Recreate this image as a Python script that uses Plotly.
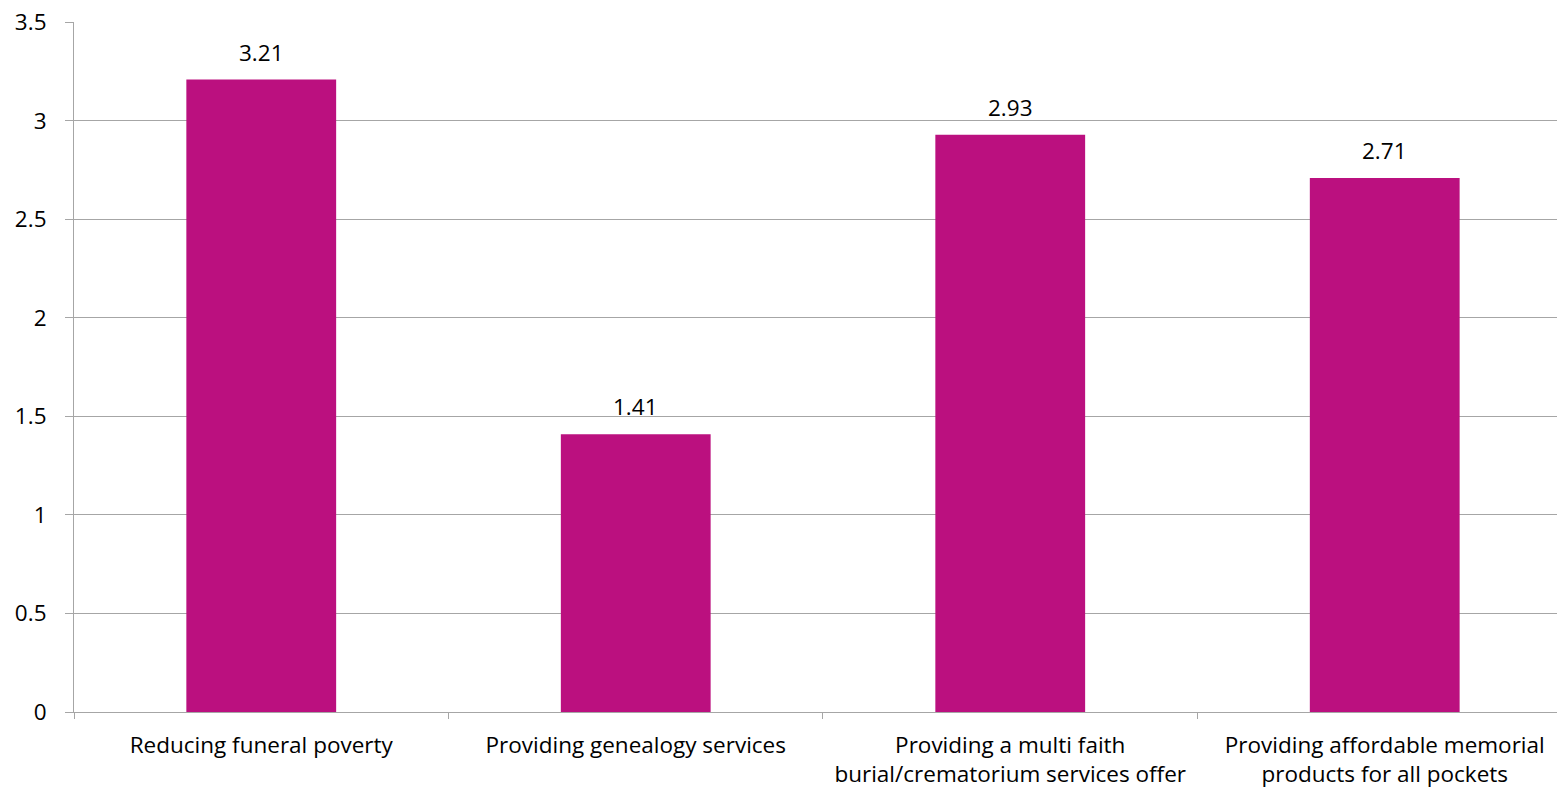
import plotly.graph_objects as go

categories = [
    "Reducing funeral poverty",
    "Providing genealogy services",
    "Providing a multi faith<br>burial/crematorium services offer",
    "Providing affordable memorial<br>products for all pockets",
]
values = [3.21, 1.41, 2.93, 2.71]
value_labels = ["3.21", "1.41", "2.93", "2.71"]
y_ticks = [0, 0.5, 1, 1.5, 2, 2.5, 3, 3.5]
y_tick_labels = ["0", "0.5", "1", "1.5", "2", "2.5", "3", "3.5"]

BAR_COLOR = "#BB107F"
GRID = "#A6A6A6"
FONT = "Open Sans"
FS = 22.5

fig = go.Figure()
fig.add_trace(go.Bar(
    x=categories,
    y=values,
    width=0.4,
    marker=dict(color=BAR_COLOR, line=dict(width=0)),
    hoverinfo="skip",
))

for cat, v, lab in zip(categories, values, value_labels):
    fig.add_annotation(
        x=cat, y=v, text=lab, showarrow=False,
        yanchor="bottom", yshift=10,
        font=dict(family=FONT, size=FS, color="#000000"),
    )

fig.update_layout(
    width=1557, height=792,
    margin=dict(l=74, r=0, t=22, b=80),
    paper_bgcolor="white", plot_bgcolor="white",
    showlegend=False,
    font=dict(family=FONT, size=FS, color="#000000"),
)
fig.update_xaxes(
    type="category",
    range=[-0.5, 3.46],
    tickson="boundaries",
    ticks="outside", ticklen=6, tickcolor=GRID,
    showline=True, linecolor=GRID, linewidth=1,
    showgrid=False, zeroline=False,
    ticklabelstandoff=13,
    tickfont=dict(family=FONT, size=FS, color="#000000"),
    fixedrange=True,
)
fig.update_yaxes(
    range=[0, 3.502],
    tickmode="array", tickvals=y_ticks, ticktext=y_tick_labels,
    ticks="outside", ticklen=8, tickcolor=GRID,
    showline=True, linecolor=GRID, linewidth=1,
    showgrid=True, gridcolor=GRID, gridwidth=1,
    zeroline=False,
    ticklabelstandoff=14,
    tickfont=dict(family=FONT, size=FS, color="#000000"),
    fixedrange=True,
)

fig.write_html(
    "out.html",
    config={"displayModeBar": False},
    post_script="document.body.style.margin='0';document.body.style.overflow='hidden';",
)
